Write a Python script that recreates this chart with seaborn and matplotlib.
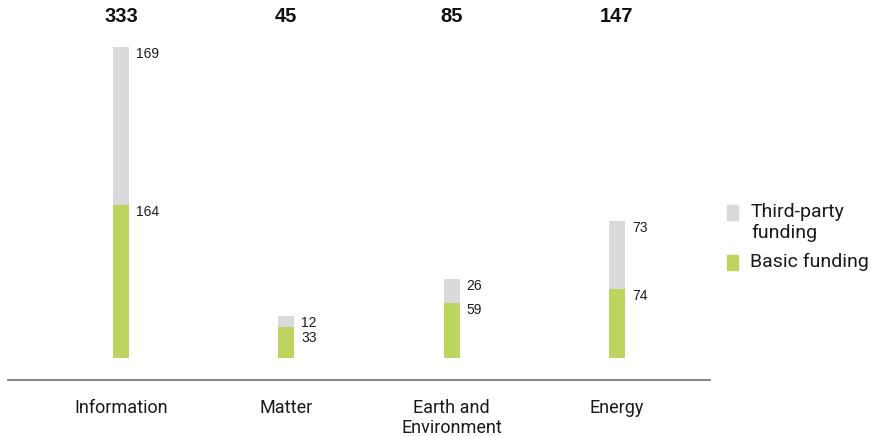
import matplotlib
matplotlib.use("Agg")
import matplotlib.pyplot as plt
import matplotlib.transforms as mtransforms
from matplotlib.patches import Rectangle
import seaborn as sns
import pandas as pd

categories = ["Information", "Matter", "Earth and\nEnvironment", "Energy"]
basic = [164, 33, 59, 74]
third_party = [169, 12, 26, 73]
totals = [333, 45, 85, 147]

GREY = "#d9dadb"
GREEN = "#bdd45f"

sns.set_style("white")
plt.rcParams["font.family"] = ["Liberation Sans", "DejaVu Sans"]

df = pd.DataFrame({
    "category": categories,
    "basic": basic,
    "stack": [b + t for b, t in zip(basic, third_party)],
})

fig = plt.figure(figsize=(8.75, 4.36), dpi=100)
ax = fig.add_axes([8 / 875, 56 / 436, 702 / 875, 380 / 436])

sns.barplot(data=df, x="category", y="stack", color=GREY, width=0.097,
            saturation=1, ax=ax, linewidth=0)
sns.barplot(data=df, x="category", y="basic", color=GREEN, width=0.097,
            saturation=1, ax=ax, linewidth=0)

ax.set_xlim(-0.685, 3.564)
ax.set_ylim(-23.5, 383)
ax.set_xlabel("")
ax.set_ylabel("")
ax.set_yticks([])
ax.tick_params(axis="x", length=0, pad=14)
for lbl in ax.get_xticklabels():
    lbl.set_fontfamily(["Roboto", "DejaVu Sans"])
    lbl.set_fontsize(13)
    lbl.set_color("#1a1a1a")
    lbl.set_linespacing(1.12)
    lbl.set_verticalalignment("top")

for side in ["top", "left", "right"]:
    ax.spines[side].set_visible(False)
ax.spines["bottom"].set_color("#707070")
ax.spines["bottom"].set_linewidth(1.2)

# px per data unit, to keep the two small labels from colliding
px_per_unit = 380 / (383 + 23.5)
off = mtransforms.offset_copy(ax.transData, fig=fig, x=7, y=0, units="dots")
for i, (b, t) in enumerate(zip(basic, third_party)):
    ax.text(i + 0.0485, b + t, str(t), transform=off, ha="left", va="top",
            fontsize=10, color="#1a1a1a")
    y_b = min(b, b + t - 15 / px_per_unit)
    ax.text(i + 0.0485, y_b, str(b), transform=off, ha="left", va="top",
            fontsize=10, color="#1a1a1a")

blend = mtransforms.blended_transform_factory(ax.transData, ax.transAxes)
for i, tot in enumerate(totals):
    ax.text(i, (380 - 17) / 380, str(tot), transform=blend, ha="center",
            va="center", fontsize=14.5, fontweight="bold", color="#111111")

# legend drawn by hand so the square sits on the first text line
W, H = 875, 436
fig.patches.append(Rectangle((727 / W, 1 - 220 / H), 11 / W, 15 / H,
                             transform=fig.transFigure, color=GREY))
fig.patches.append(Rectangle((727 / W, 1 - 270 / H), 11 / W, 15 / H,
                             transform=fig.transFigure, color=GREEN))
leg_font = ["Roboto", "DejaVu Sans"]
fig.text(751 / W, 1 - 212 / H, "Third-party", fontsize=14, va="center",
         family=leg_font, color="#1a1a1a")
fig.text(751 / W, 1 - 233 / H, "funding", fontsize=14, va="center",
         family=leg_font, color="#1a1a1a")
fig.text(750 / W, 1 - 262 / H, "Basic funding", fontsize=14, va="center",
         family=leg_font, color="#1a1a1a")

fig.savefig("out.png", dpi=100)
